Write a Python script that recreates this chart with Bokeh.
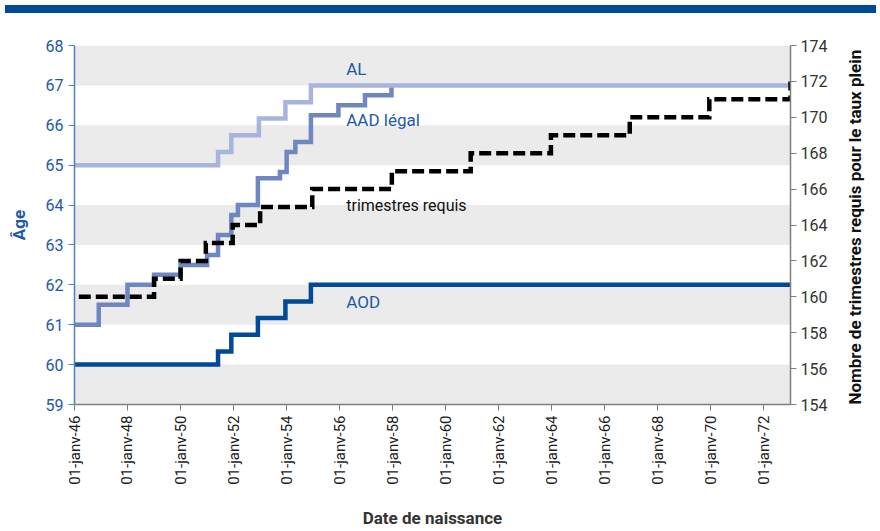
import math
from datetime import datetime
from bokeh.plotting import figure
from bokeh.models import Range1d, LinearAxis, FixedTicker, Label, Div, BoxAnnotation
from bokeh.layouts import column
from bokeh.embed import file_html
from bokeh.resources import INLINE


def d(s):
    return datetime.strptime(s, "%Y-%m-%d")


def ms(dt):
    return (dt - datetime(1970, 1, 1)).total_seconds() * 1000.0


# ---------------- data ----------------
aod_dates = ["1946-01-01", "1951-06-01", "1951-12-01", "1952-12-01", "1953-12-15", "1954-12-01", "1973-01-01"]
aod_ages = [60.0, 60.33, 60.75, 61.17, 61.58, 62.0, 62.0]

al_dates = ["1946-01-01", "1951-06-01", "1951-12-01", "1952-12-15", "1953-12-15", "1954-12-01", "1973-01-01"]
al_ages = [65.0, 65.33, 65.75, 66.17, 66.58, 67.0, 67.0]

aad_dates = ["1946-01-01", "1946-12-01", "1948-01-01", "1949-01-01", "1950-01-01", "1951-01-01",
             "1951-06-01", "1951-12-01", "1952-03-01", "1952-12-01", "1953-10-01", "1954-01-01",
             "1954-05-01", "1954-12-01", "1955-12-15", "1956-12-15", "1957-12-15"]
aad_ages = [61.0, 61.5, 62.0, 62.25, 62.5, 62.75,
            63.25, 63.75, 64.0, 64.67, 64.83, 65.33,
            65.58, 66.25, 66.5, 66.75, 67.0]

tri_dates = ["1946-03-01", "1949-01-01", "1950-01-01", "1950-12-15", "1951-12-20", "1953-01-01",
             "1954-12-20", "1957-12-20", "1960-12-10", "1963-12-20", "1966-12-10", "1969-12-10",
             "1973-01-01"]
tri_values = [160, 161, 162, 163, 164, 165, 166, 167, 168, 169, 170, 171, 172]

age_ticks = [59, 60, 61, 62, 63, 64, 65, 66, 67, 68]
tri_ticks = [154, 156, 158, 160, 162, 164, 166, 168, 170, 172, 174]
xtick_dates = ["1946-01-01", "1948-01-01", "1950-01-01", "1952-01-01", "1954-01-01", "1956-01-01",
               "1958-01-01", "1960-01-01", "1962-01-01", "1964-01-01", "1966-01-01", "1968-01-01",
               "1970-01-01", "1972-01-01"]
xtick_labels = ["01-janv-46", "01-janv-48", "01-janv-50", "01-janv-52", "01-janv-54", "01-janv-56",
                "01-janv-58", "01-janv-60", "01-janv-62", "01-janv-64", "01-janv-66", "01-janv-68",
                "01-janv-70", "01-janv-72"]

# ---------------- style ----------------
FONT = "Roboto"
DARK = "#004a97"
MID = "#6e86c2"
LIGHT = "#a8b4dc"
TXTBLUE = "#1d59a7"
AXBLUE = "#4a80c4"
GREY = "#7f7f7f"
BAND = "#ebebeb"

x_start, x_end = d("1946-01-01"), d("1973-01-01")
p = figure(width=878, height=513, x_axis_type="datetime",
           x_range=Range1d(x_start, x_end), y_range=Range1d(59, 68),
           output_backend="svg", toolbar_location=None,
           min_border_left=74, min_border_right=82, min_border_top=27, min_border_bottom=127)
p.extra_y_ranges = {"tri": Range1d(154, 174)}
p.outline_line_color = None
p.background_fill_color = "white"
p.grid.visible = False

# alternating grey bands (59-60, 61-62, ...)
for lo in age_ticks[0:-1:2]:
    p.add_layout(BoxAnnotation(bottom=lo, top=lo + 1, fill_color=BAND, fill_alpha=1.0,
                               line_color=None, level="underlay"))

# left axis
ya = p.yaxis[0]
ya.ticker = FixedTicker(ticks=age_ticks)
ya.axis_label = "Âge"
ya.axis_label_text_font = FONT
ya.axis_label_text_font_style = "bold"
ya.axis_label_text_font_size = "17px"
ya.axis_label_text_color = TXTBLUE
ya.axis_label_standoff = 14
ya.major_label_text_font = FONT
ya.major_label_text_font_size = "16px"
ya.major_label_text_color = TXTBLUE
ya.axis_line_color = AXBLUE
ya.axis_line_width = 1.5
ya.major_tick_line_color = AXBLUE
ya.major_tick_out = 6
ya.major_tick_in = 0
ya.minor_tick_line_color = None
ya.major_label_standoff = 5

# bottom axis
xa = p.xaxis[0]
xt = [ms(d(s)) for s in xtick_dates]
xa.ticker = FixedTicker(ticks=xt)
xa.major_label_overrides = {t: lab for t, lab in zip(xt, xtick_labels)}
xa.major_label_orientation = math.pi / 2
xa.major_label_text_font = FONT
xa.major_label_text_font_size = "15px"
xa.major_label_text_color = "#1a1a1a"
xa.major_label_standoff = 5
xa.axis_line_color = GREY
xa.axis_line_width = 1.5
xa.major_tick_line_color = GREY
xa.major_tick_out = 6
xa.major_tick_in = 0
xa.minor_tick_line_color = None
xa.axis_label = "Date de naissance"
xa.axis_label_text_font = FONT
xa.axis_label_text_font_style = "bold"
xa.axis_label_text_font_size = "17px"
xa.axis_label_text_color = "#333333"
xa.axis_label_standoff = 20

# right axis
ra = LinearAxis(y_range_name="tri", ticker=FixedTicker(ticks=tri_ticks),
                axis_label="Nombre de trimestres requis pour le taux plein")
ra.axis_label_text_font = FONT
ra.axis_label_text_font_style = "bold"
ra.axis_label_text_font_size = "17px"
ra.axis_label_text_color = "#111111"
ra.axis_label_standoff = 25
ra.axis_label_orientation = math.pi / 2
ra.axis_label_align = "start"
ra.major_label_text_font = FONT
ra.major_label_text_font_size = "16px"
ra.major_label_text_color = "#333333"
ra.axis_line_color = GREY
ra.axis_line_width = 1.5
ra.major_tick_line_color = GREY
ra.major_tick_out = 6
ra.major_tick_in = 0
ra.minor_tick_line_color = None
ra.major_label_standoff = 4
p.add_layout(ra, "right")

# series
p.step(x=[d(s) for s in aad_dates], y=aad_ages, mode="after",
       line_color=MID, line_width=4.5, line_join="miter")
p.step(x=[d(s) for s in al_dates], y=al_ages, mode="after",
       line_color=LIGHT, line_width=4.5, line_join="miter")
p.step(x=[d(s) for s in tri_dates], y=tri_values, mode="after", y_range_name="tri",
       line_color="black", line_width=4.5, line_dash="12 5", line_join="miter")
p.step(x=[d(s) for s in aod_dates], y=aod_ages, mode="after",
       line_color=DARK, line_width=4.5, line_join="miter")

# in-plot labels
lab_x = d("1956-04-01")
for txt, yy, col, rng, fs in [("AL", 67.42, TXTBLUE, "default", "17px"),
                              ("AAD légal", 66.12, TXTBLUE, "default", "17px"),
                              ("trimestres requis", 165.1, "#111111", "tri", "16px"),
                              ("AOD", 61.56, TXTBLUE, "default", "17px")]:
    p.add_layout(Label(x=lab_x, y=yy, y_range_name=rng, text=txt, text_color=col,
                       text_font=FONT, text_font_size=fs,
                       text_baseline="middle", text_align="left"))

bar = Div(width=871, height=8, styles={"background-color": DARK})
layout = column(bar, p, spacing=0)

open("out.html", "w").write(file_html(layout, INLINE))
